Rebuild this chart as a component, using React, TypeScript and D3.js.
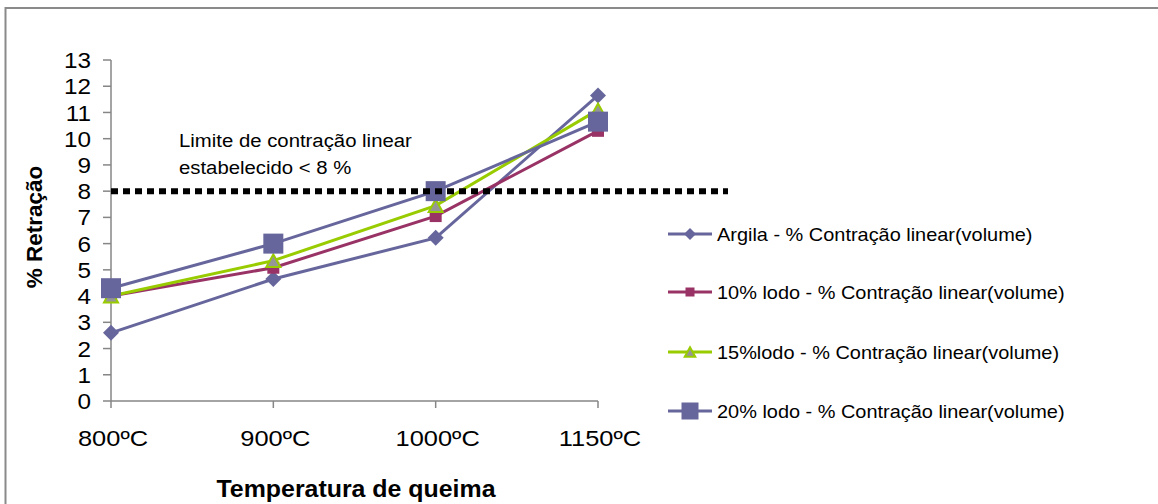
import React from "react";
import * as d3 from "d3";

const temperatures = ["800ºC", "900ºC", "1000ºC", "1150ºC"];
const argila = [2.6, 4.65, 6.22, 11.65];
const lodo10 = [4.0, 5.08, 7.05, 10.3];
const lodo15 = [4.0, 5.35, 7.45, 11.1];
const lodo20 = [4.3, 6.0, 8.0, 10.65];
const yTicks = d3.range(0, 14);
const limite = 8;

const seriesNames = [
  "Argila - % Contração linear(volume)",
  "10% lodo - % Contração linear(volume)",
  "15%lodo - % Contração linear(volume)",
  "20% lodo - % Contração linear(volume)",
];

type Series = {
  name: string;
  values: number[];
  color: string;
  marker: "diamond" | "square" | "triangle" | "bigsquare";
};

const series: Series[] = [
  { name: seriesNames[0], values: argila, color: "#66669C", marker: "diamond" },
  { name: seriesNames[1], values: lodo10, color: "#993366", marker: "square" },
  { name: seriesNames[2], values: lodo15, color: "#99CC00", marker: "triangle" },
  { name: seriesNames[3], values: lodo20, color: "#66669C", marker: "bigsquare" },
];

const W = 1158;
const H = 504;
const x = d3.scalePoint<string>().domain(temperatures).range([111, 598]);
const y = d3.scaleLinear().domain([0, 13]).range([401, 60]);
const FONT = "'Liberation Sans', Arial, sans-serif";

function Marker({ kind, cx, cy, color, legend }: { kind: Series["marker"]; cx: number; cy: number; color: string; legend?: boolean }) {
  const k = legend ? 0.75 : 1;
  if (kind === "diamond") {
    const r = 8 * k;
    return <path d={`M${cx},${cy - r}L${cx + r},${cy}L${cx},${cy + r}L${cx - r},${cy}Z`} fill={color} />;
  }
  if (kind === "square") {
    const s = 12 * k;
    return <rect x={cx - s / 2} y={cy - s / 2} width={s} height={s} fill={color} />;
  }
  if (kind === "triangle") {
    const s = 14 * k;
    const h = s * 0.9;
    return (
      <path
        d={`M${cx},${cy - h / 2}L${cx + s / 2},${cy + h / 2}L${cx - s / 2},${cy + h / 2}Z`}
        fill="#969696"
        stroke={color}
        strokeWidth={2}
      />
    );
  }
  const s = 20 * (legend ? 0.85 : 1);
  return <rect x={cx - s / 2} y={cy - s / 2} width={s} height={s} fill={color} />;
}

export default function App() {
  const line = d3
    .line<number>()
    .x((_, i) => x(temperatures[i]) as number)
    .y((v) => y(v));

  const legendRows = [234, 292, 352, 411];

  return (
    <svg width={W} height={H} style={{ position: "absolute", left: 0, top: 0, background: "#fff" }} fontFamily={FONT}>
      <rect x={0} y={0} width={W} height={H} fill="#fff" />
      <rect x={5.5} y={8} width={W + 10} height={H + 10} fill="none" stroke="#8a8a8a" strokeWidth={2} />

      {/* y axis */}
      <line x1={111} x2={111} y1={y(13)} y2={y(0)} stroke="#868686" strokeWidth={1.5} />
      {yTicks.map((t) => (
        <g key={t}>
          <line x1={103} x2={111} y1={y(t)} y2={y(t)} stroke="#868686" strokeWidth={1.5} />
          <text
            transform={`translate(91,${y(t)}) scale(1.08,1)`}
            dy="0.36em"
            textAnchor="end"
            fontSize={22.5}
            fill="#000"
          >
            {t}
          </text>
        </g>
      ))}

      {/* x axis */}
      <line x1={111} x2={598} y1={y(0)} y2={y(0)} stroke="#868686" strokeWidth={1.5} />
      {temperatures.map((t) => (
        <g key={t}>
          <line x1={x(t)} x2={x(t)} y1={y(0)} y2={y(0) + 7} stroke="#868686" strokeWidth={1.5} />
          <text
            transform={`translate(${x(t) as number + 2},446) scale(1.13,1)`}
            textAnchor="middle"
            fontSize={22.5}
            fill="#000"
          >
            {t}
          </text>
        </g>
      ))}

      <text transform="translate(356,497) scale(1.06,1)" textAnchor="middle" fontSize={23.5} fontWeight="bold" fill="#000">
        Temperatura de queima
      </text>
      <text transform="translate(42,227) rotate(-90)" textAnchor="middle" fontSize={22.5} fontWeight="bold" fill="#000">
        % Retração
      </text>

      {/* series */}
      {series.map((s) => (
        <g key={s.name}>
          <path d={line(s.values) ?? ""} fill="none" stroke={s.color} strokeWidth={3} />
          {s.values.map((v, i) => (
            <Marker key={i} kind={s.marker} cx={x(temperatures[i]) as number} cy={y(v)} color={s.color} />
          ))}
        </g>
      ))}

      {/* limit line */}
      <line
        x1={111}
        x2={728}
        y1={y(limite)}
        y2={y(limite)}
        stroke="#000"
        strokeWidth={6}
        strokeDasharray="7 5"
      />
      <text transform="translate(179,147) scale(1.06,1)" fontSize={19.2} fill="#000">
        Limite de contração linear
      </text>
      <text transform="translate(179,174) scale(1.06,1)" fontSize={19.2} fill="#000">
        estabelecido &lt; 8 %
      </text>

      {/* legend */}
      {series.map((s, i) => (
        <g key={s.name}>
          <line x1={668} x2={712} y1={legendRows[i]} y2={legendRows[i]} stroke={s.color} strokeWidth={3} />
          <Marker kind={s.marker} cx={690} cy={legendRows[i]} color={s.color} legend />
          <text
            transform={`translate(717,${legendRows[i]}) scale(1.06,1)`}
            dy="0.36em"
            fontSize={18.8}
            fill="#000"
          >
            {s.name}
          </text>
        </g>
      ))}
    </svg>
  );
}
